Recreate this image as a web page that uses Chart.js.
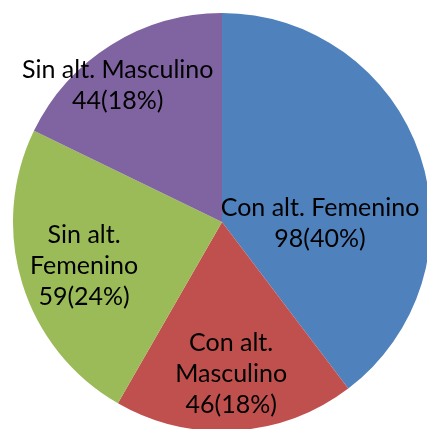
<!DOCTYPE html>
<html>
<head>
<meta charset="utf-8">
<script src="https://cdn.jsdelivr.net/npm/chart.js@4.4.1/dist/chart.umd.min.js"></script>
<style>
  html, body { margin: 0; padding: 0; background: #ffffff; overflow: hidden; }
  #wrap { width: 427px; height: 429px; overflow: hidden; position: relative; }
  canvas { position: absolute; left: 0; top: 0; }
</style>
</head>
<body>
<div id="wrap"><canvas id="pie" width="444" height="444"></canvas></div>
<script>
// datos de la torta
const categorias = ['Con alt. Femenino', 'Con alt. Masculino', 'Sin alt. Femenino', 'Sin alt. Masculino'];
const valores = [98, 46, 59, 44];
const porcentajes = [40, 18, 24, 18];
const colores = ['#4F81BD', '#C0504D', '#9BBB59', '#8064A2'];

// etiquetas dentro de cada porcion (estilo Excel)
const etiquetasPlugin = {
    id: 'etiquetas',
    afterDatasetsDraw(chart, args, opts) {
        const ctx = chart.ctx;
        const meta = chart.getDatasetMeta(0);
        ctx.save();
        ctx.font = opts.font;
        ctx.fillStyle = opts.color;
        ctx.textAlign = 'center';
        ctx.textBaseline = 'middle';
        meta.data.forEach((arc, i) => {
            const p = opts.placement[i];
            const mid = (arc.startAngle + arc.endAngle) / 2 + p.shift * Math.PI / 180;
            const r = arc.outerRadius * p.dist;
            const cx = arc.x + Math.cos(mid) * r;
            const cy = arc.y + Math.sin(mid) * r;

            // cortar el texto segun el ancho disponible
            const words = chart.data.labels[i].split(' ');
            const lines = [];
            let cur = '';
            for (const w of words) {
                const test = cur ? cur + ' ' + w : w;
                if (cur && ctx.measureText(test).width > p.maxWidth) {
                    lines.push(cur);
                    cur = w;
                } else {
                    cur = test;
                }
            }
            lines.push(cur);
            lines.push(valores[i] + '(' + porcentajes[i] + '%)');

            const lh = opts.lineHeight;
            lines.forEach((t, k) => {
                ctx.fillText(t, cx, cy + (k - (lines.length - 1) / 2) * lh);
            });
        });
        ctx.restore();
    }
};

new Chart(document.getElementById('pie').getContext('2d'), {
    type: 'pie',
    data: {
        labels: categorias,
        datasets: [{
            data: valores,
            backgroundColor: colores,
            borderWidth: 0,
            radius: 209
        }]
    },
    options: {
        responsive: false,
        animation: false,
        layout: { padding: 0 },
        plugins: {
            legend: { display: false },
            tooltip: { enabled: false },
            etiquetas: {
                font: '25px Lato',
                color: '#000000',
                lineHeight: 31,
                placement: [
                    { dist: 0.469, shift: 19.5, maxWidth: 220 },
                    { dist: 0.729, shift: 0.2, maxWidth: 130 },
                    { dist: 0.692, shift: -0.4, maxWidth: 130 },
                    { dist: 0.822, shift: -5.3, maxWidth: 220 }
                ]
            }
        }
    },
    plugins: [etiquetasPlugin]
});
</script>
</body>
</html>
